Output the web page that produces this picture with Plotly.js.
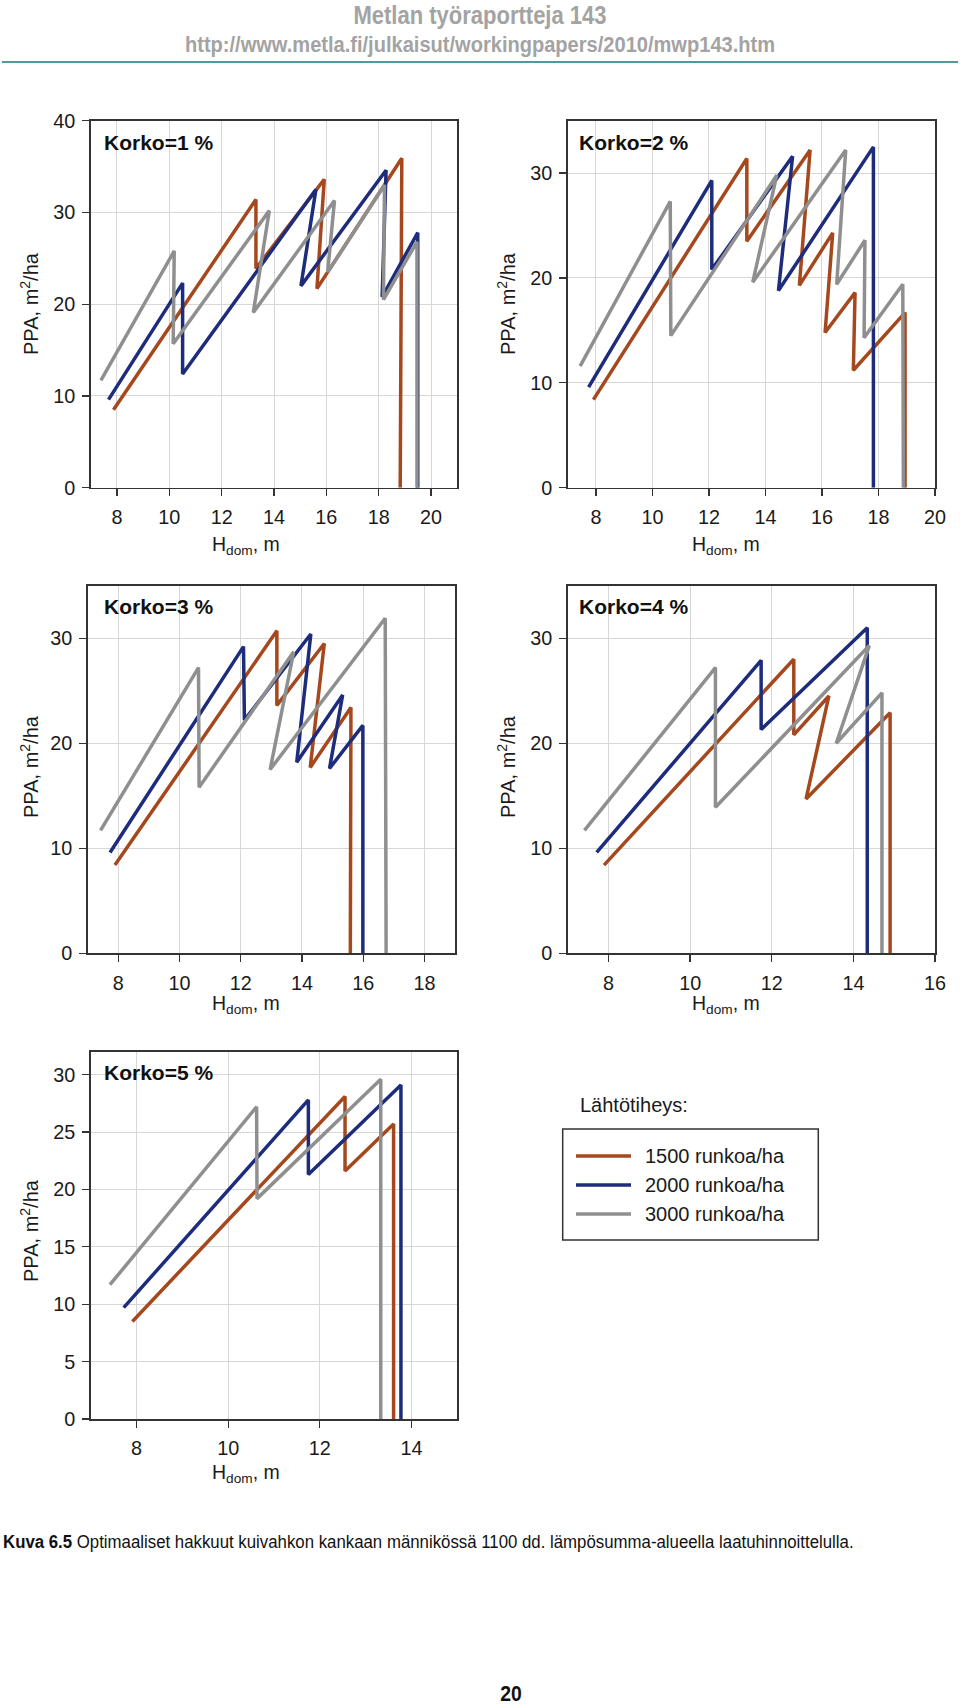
<!DOCTYPE html>
<html>
<head>
<meta charset="utf-8">
<script src="https://cdn.plot.ly/plotly-3.0.1.min.js"></script>
<style>
html,body{margin:0;padding:0;background:#fff;}
#page{position:relative;width:960px;height:1706px;overflow:hidden;}
#chart{position:absolute;left:0;top:0;width:960px;height:1706px;}
.txt{position:absolute;white-space:nowrap;line-height:1;font-family:'Liberation Sans',Arial,Helvetica,sans-serif;}
.ctr{transform:translate(-50%,-50%) scaleX(0.88);transform-origin:50% 50%;}
.lft{transform:translateY(-50%) scaleX(0.88);transform-origin:0 50%;}
</style>
</head>
<body>
<div id="page">
  <div id="chart"></div>
  <div class="txt ctr" style="left:480px;top:15px;font-size:25px;font-weight:bold;color:#a3a3a3;">Metlan työraportteja 143</div>
  <div class="txt ctr" style="left:479.5px;top:44px;font-size:22.8px;font-weight:bold;color:#a3a3a3;">http://www.metla.fi/julkaisut/workingpapers/2010/mwp143.htm</div>
  <div class="txt lft" style="left:3px;top:1542px;font-size:19.1px;color:#111;"><b>Kuva 6.5</b> Optimaaliset hakkuut kuivahkon kankaan männikössä 1100 dd. lämpösumma-alueella laatuhinnoittelulla.</div>
  <div class="txt ctr" style="left:511px;top:1694px;font-size:22px;font-weight:bold;color:#111;">20</div>
</div>
<script>
// ---------------- DATA ----------------
const seriesNames = ['1500 runkoa/ha', '2000 runkoa/ha', '3000 runkoa/ha'];
const panelTitles = ['Korko=1 %', 'Korko=2 %', 'Korko=3 %', 'Korko=4 %', 'Korko=5 %'];
const legendHeading = 'Lähtötiheys:';
const xTitle = 'H<sub>dom</sub>, m';
const yTitle = 'PPA, m<sup>2</sup>/ha';

// Korko = 1 %
const k1_1500_x = [7.87, 13.31, 13.31, 15.92, 15.64, 18.88, 18.82];
const k1_1500_y = [8.5, 31.4, 23.9, 33.6, 21.7, 35.9, 0];
const k1_2000_x = [7.68, 10.51, 10.51, 15.60, 15.03, 18.28, 18.13, 19.49, 19.49];
const k1_2000_y = [9.6, 22.3, 12.4, 32.5, 22.0, 34.6, 20.8, 27.8, 0];
const k1_3000_x = [7.39, 10.19, 10.15, 13.82, 13.21, 16.31, 16.05, 18.22, 18.18, 19.46, 19.46];
const k1_3000_y = [11.7, 25.8, 15.7, 30.2, 19.1, 31.3, 23.5, 33.0, 20.5, 26.8, 0];

// Korko = 2 %
const k2_1500_x = [7.91, 13.34, 13.34, 15.58, 15.20, 16.38, 16.11, 17.17, 17.11, 18.94, 18.94];
const k2_1500_y = [8.4, 31.4, 23.5, 32.2, 19.3, 24.3, 14.8, 18.6, 11.2, 16.7, 0];
const k2_2000_x = [7.74, 12.10, 12.10, 14.96, 14.46, 17.82, 17.82];
const k2_2000_y = [9.6, 29.3, 20.8, 31.6, 18.8, 32.5, 0];
const k2_3000_x = [7.44, 10.63, 10.65, 14.40, 13.55, 16.84, 16.52, 17.52, 17.49, 18.86, 18.88];
const k2_3000_y = [11.6, 27.3, 14.5, 29.8, 19.6, 32.2, 19.4, 23.6, 14.3, 19.4, 0];

// Korko = 3 %
const k3_1500_x = [7.89, 13.18, 13.18, 14.73, 14.27, 15.60, 15.58];
const k3_1500_y = [8.4, 30.7, 23.6, 29.5, 17.7, 23.4, 0];
const k3_2000_x = [7.73, 12.09, 12.12, 14.29, 13.83, 15.33, 14.90, 15.99, 15.99];
const k3_2000_y = [9.6, 29.2, 22.2, 30.4, 18.2, 24.6, 17.6, 21.7, 0];
const k3_3000_x = [7.42, 10.62, 10.64, 13.73, 12.96, 16.72, 16.75];
const k3_3000_y = [11.7, 27.2, 15.8, 28.7, 17.5, 31.9, 0];

// Korko = 4 %
const k4_1500_x = [7.89, 12.54, 12.54, 13.40, 12.84, 14.90, 14.90];
const k4_1500_y = [8.4, 28.0, 20.8, 24.5, 14.7, 22.9, 0];
const k4_2000_x = [7.71, 11.74, 11.74, 14.34, 14.34];
const k4_2000_y = [9.6, 27.9, 21.3, 31.0, 0];
const k4_3000_x = [7.41, 10.62, 10.62, 14.39, 13.58, 14.70, 14.70];
const k4_3000_y = [11.7, 27.2, 13.9, 29.3, 20.0, 24.8, 0];

// Korko = 5 %
const k5_1500_x = [7.91, 12.55, 12.55, 13.61, 13.61];
const k5_1500_y = [8.5, 28.1, 21.6, 25.7, 0];
const k5_2000_x = [7.72, 11.75, 11.75, 13.77, 13.77];
const k5_2000_y = [9.7, 27.8, 21.3, 29.1, 0];
const k5_3000_x = [7.42, 10.62, 10.63, 13.33, 13.33];
const k5_3000_y = [11.7, 27.2, 19.2, 29.6, 0];

const panelData = [
  [[k1_1500_x, k1_1500_y], [k1_2000_x, k1_2000_y], [k1_3000_x, k1_3000_y]],
  [[k2_1500_x, k2_1500_y], [k2_2000_x, k2_2000_y], [k2_3000_x, k2_3000_y]],
  [[k3_1500_x, k3_1500_y], [k3_2000_x, k3_2000_y], [k3_3000_x, k3_3000_y]],
  [[k4_1500_x, k4_1500_y], [k4_2000_x, k4_2000_y], [k4_3000_x, k4_3000_y]],
  [[k5_1500_x, k5_1500_y], [k5_2000_x, k5_2000_y], [k5_3000_x, k5_3000_y]]
];

// ---------------- STYLE / LAYOUT ----------------
const W = 960, H = 1706;
const px = v => v / W;
const py = v => 1 - v / H;
const FONT = 'Liberation Sans, Arial, Helvetica, sans-serif';
const colors = ['#a5481d', '#1e2c7c', '#8f8f8f'];
const LINEW = 3.5;
const FRAME = '#333333';

const panels = [
  {l: 90.7,  r: 457.3, t: 120.7,  b: 487.7, xr: [7, 21], yr: [0, 40], ydt: 10, title: [101.7, 142],  xt: [245.5, 545],  yt: [29, 304]},
  {l: 567.7, r: 935,   t: 120.7,  b: 487.7, xr: [7, 20], yr: [0, 35], ydt: 10, title: [576.7, 142.5], xt: [725.5, 545],  yt: [506, 304]},
  {l: 87.7,  r: 455,   t: 585.7,  b: 953.3, xr: [7, 19], yr: [0, 35], ydt: 10, title: [101.7, 606.7], xt: [245.5, 1005], yt: [29, 767]},
  {l: 567.7, r: 935,   t: 585.7,  b: 953.3, xr: [7, 16], yr: [0, 35], ydt: 10, title: [576.7, 606.7], xt: [725.5, 1005], yt: [506, 767]},
  {l: 90.7,  r: 457.3, t: 1051.7, b: 1419,  xr: [7, 15], yr: [0, 32], ydt: 5,  title: [101.7, 1072],  xt: [245.5, 1473], yt: [29, 1231]}
];

const layout = {
  width: W, height: H,
  margin: {l: 0, r: 0, t: 0, b: 0},
  paper_bgcolor: 'rgba(0,0,0,0)', plot_bgcolor: '#ffffff',
  showlegend: false, hovermode: false,
  font: {family: FONT, color: '#1a1a1a'},
  annotations: [], shapes: []
};

const traces = [];
panels.forEach((p, i) => {
  const n = i === 0 ? '' : String(i + 1);
  const common = {
    showline: true, mirror: true, linecolor: FRAME, linewidth: 1.5,
    ticks: 'outside', ticklen: 7, tickwidth: 1.3, tickcolor: FRAME,
    showgrid: true, gridcolor: '#d7d7d7', gridwidth: 1, zeroline: false,
    tickfont: {family: FONT, size: 19.8, color: '#1a1a1a'},
    fixedrange: true
  };
  layout['xaxis' + n] = Object.assign({}, common, {
    domain: [px(p.l), px(p.r)], range: p.xr, tick0: 0, dtick: 2,
    anchor: 'y' + n, ticklabelstandoff: 4
  });
  layout['yaxis' + n] = Object.assign({}, common, {
    domain: [py(p.b), py(p.t)], range: p.yr, tick0: 0, dtick: p.ydt,
    anchor: 'x' + n, ticklabelstandoff: 3
  });
  panelData[i].forEach((s, j) => {
    traces.push({
      type: 'scatter', mode: 'lines', x: s[0], y: s[1],
      xaxis: 'x' + n, yaxis: 'y' + n, name: seriesNames[j],
      line: {color: colors[j], width: LINEW}, hoverinfo: 'skip', showlegend: false
    });
  });
  layout.annotations.push({
    xref: 'paper', yref: 'paper', x: px(p.title[0]), y: py(p.title[1]),
    xanchor: 'left', yanchor: 'middle', showarrow: false,
    text: '<b>' + panelTitles[i] + '</b>', font: {family: FONT, size: 21, color: '#111'}
  });
  layout.annotations.push({
    xref: 'paper', yref: 'paper', x: px(p.xt[0]), y: py(p.xt[1]),
    xanchor: 'center', yanchor: 'middle', showarrow: false,
    text: xTitle, font: {family: FONT, size: 19.5, color: '#1a1a1a'}
  });
  layout.annotations.push({
    xref: 'paper', yref: 'paper', x: px(p.yt[0]), y: py(p.yt[1]),
    xanchor: 'center', yanchor: 'middle', showarrow: false, textangle: -90,
    text: yTitle, font: {family: FONT, size: 20, color: '#1a1a1a'}
  });
});

// Legend (drawn to match the original box layout)
const legBox = {l: 562.7, r: 818.3, t: 1129, b: 1240};
const legRows = [1156, 1185, 1214];
layout.shapes.push({
  type: 'rect', xref: 'paper', yref: 'paper',
  x0: px(legBox.l), x1: px(legBox.r), y0: py(legBox.b), y1: py(legBox.t),
  line: {color: FRAME, width: 1.5}, fillcolor: 'rgba(0,0,0,0)'
});
seriesNames.forEach((nm, j) => {
  layout.shapes.push({
    type: 'line', xref: 'paper', yref: 'paper',
    x0: px(576), x1: px(631), y0: py(legRows[j]), y1: py(legRows[j]),
    line: {color: colors[j], width: LINEW}
  });
  layout.annotations.push({
    xref: 'paper', yref: 'paper', x: px(643), y: py(legRows[j]),
    xanchor: 'left', yanchor: 'middle', showarrow: false,
    text: nm, font: {family: FONT, size: 20, color: '#1a1a1a'}
  });
});
layout.annotations.push({
  xref: 'paper', yref: 'paper', x: px(578), y: py(1105),
  xanchor: 'left', yanchor: 'middle', showarrow: false,
  text: legendHeading, font: {family: FONT, size: 20, color: '#1a1a1a'}
});

// Teal rule under the page header
layout.shapes.push({
  type: 'line', xref: 'paper', yref: 'paper',
  x0: px(2), x1: px(958), y0: py(62), y1: py(62),
  line: {color: '#4f9a9c', width: 2}
});

Plotly.newPlot('chart', traces, layout, {displayModeBar: false, staticPlot: true});
</script>
</body>
</html>
